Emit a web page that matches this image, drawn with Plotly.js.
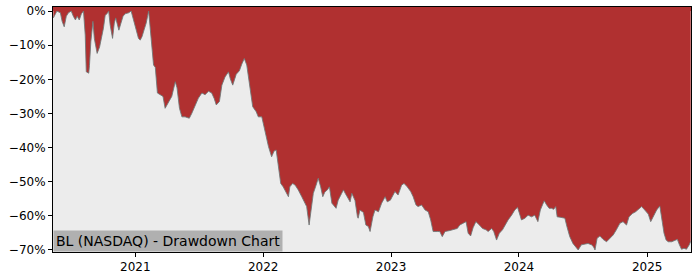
<!DOCTYPE html>
<html>
<head>
<meta charset="utf-8">
<script src="https://cdn.plot.ly/plotly-3.0.1.min.js"></script>
<style>html,body{margin:0;padding:0;background:#fff;}#chart{width:700px;height:280px;}</style>
</head>
<body>
<div id="chart"></div>
<script>
const dates = [
"2020-05-12","2020-05-22","2020-06-01","2020-06-06","2020-06-12","2020-06-18","2020-06-24","2020-07-02","2020-07-08","2020-07-14",
"2020-07-19","2020-07-25","2020-07-31","2020-08-06","2020-08-11","2020-08-14","2020-08-21","2020-08-23","2020-08-27","2020-09-02",
"2020-09-06","2020-09-14","2020-09-21","2020-09-28","2020-10-02","2020-10-07","2020-10-12","2020-10-17","2020-10-21","2020-10-28",
"2020-11-02","2020-11-06","2020-11-10","2020-11-15","2020-11-21","2020-11-27","2020-12-03","2020-12-13","2020-12-20","2020-12-27",
"2021-01-03","2021-01-10","2021-01-15","2021-01-20","2021-01-26","2021-02-01","2021-02-08","2021-02-12","2021-02-18","2021-02-22",
"2021-02-27","2021-03-05","2021-03-13","2021-03-21","2021-03-27","2021-04-06","2021-04-15","2021-04-25","2021-04-30","2021-05-07",
"2021-05-14","2021-05-23","2021-06-04","2021-06-11","2021-06-21","2021-06-30","2021-07-10","2021-07-19","2021-07-29","2021-08-07",
"2021-08-14","2021-08-20","2021-08-29","2021-09-05","2021-09-14","2021-09-24","2021-09-29","2021-10-06","2021-10-16","2021-10-25",
"2021-11-01","2021-11-08","2021-11-15","2021-11-25","2021-12-02","2021-12-12","2021-12-18","2021-12-28","2022-01-03","2022-01-11",
"2022-01-16","2022-01-25","2022-02-01","2022-02-07","2022-02-13","2022-02-20","2022-02-27","2022-03-07","2022-03-14","2022-03-18",
"2022-03-26","2022-04-02","2022-04-11","2022-04-21","2022-04-30","2022-05-05","2022-05-12","2022-05-17","2022-05-24","2022-06-01",
"2022-06-07","2022-06-14","2022-06-20","2022-06-26","2022-07-03","2022-07-09","2022-07-16","2022-07-28","2022-08-03","2022-08-13",
"2022-08-18","2022-08-23","2022-08-29","2022-09-06","2022-09-11","2022-09-20","2022-09-27","2022-09-29","2022-10-04","2022-10-14",
"2022-10-21","2022-10-28","2022-11-02","2022-11-10","2022-11-16","2022-11-26","2022-12-05","2022-12-15","2022-12-21","2022-12-30",
"2023-01-12","2023-01-21","2023-01-31","2023-02-07","2023-02-16","2023-02-26","2023-03-05","2023-03-13","2023-03-19","2023-03-29",
"2023-04-08","2023-04-17","2023-04-24","2023-05-01","2023-05-13","2023-05-20","2023-05-27","2023-06-04","2023-06-18","2023-06-29",
"2023-07-09","2023-07-16","2023-07-26","2023-08-03","2023-08-09","2023-08-16","2023-08-23","2023-08-31","2023-09-10","2023-09-19",
"2023-09-29","2023-10-05","2023-10-15","2023-10-21","2023-10-29","2023-11-06","2023-11-15","2023-11-22","2023-12-01","2023-12-11",
"2023-12-20","2023-12-28","2024-01-03","2024-01-08","2024-01-18","2024-01-27","2024-02-06","2024-02-15","2024-02-24","2024-03-02",
"2024-03-08","2024-03-13","2024-03-20","2024-03-27","2024-04-03","2024-04-09","2024-04-15","2024-04-19","2024-04-27","2024-05-11",
"2024-05-17","2024-05-25","2024-06-03","2024-06-13","2024-06-18","2024-06-27","2024-07-07","2024-07-16","2024-07-26","2024-08-01",
"2024-08-05","2024-08-11","2024-08-19","2024-08-28","2024-09-07","2024-09-16","2024-09-26","2024-10-05","2024-10-15","2024-10-24",
"2024-11-03","2024-11-10","2024-11-20","2024-11-29","2024-12-09","2024-12-16","2024-12-25","2025-01-04","2025-01-11","2025-01-18",
"2025-01-28","2025-02-06","2025-02-11","2025-02-18","2025-02-24","2025-03-02","2025-03-12","2025-03-21","2025-03-28","2025-04-03",
"2025-04-09","2025-04-16","2025-04-23","2025-05-01","2025-05-05"
];
const drawdownPct = [
-2.0,0,-0.5,-3,-4.6,-1.5,-0.5,0,-1.5,-2.6,
-1.5,-2.6,-0.8,0,-7,-17.8,-18.2,-16,-9,-3,
-8,-12.4,-10.5,-7.5,-5,-1.2,-0.8,0,-4,-8,
-3.5,-2,-4,-5.6,-3.5,-1.5,-0.8,-0.5,0,-2.5,
-5.5,-8,-8.5,-7.5,-5.5,-3.5,0,-4.6,-10,-15.8,
-16.5,-24,-24.5,-25,-28.5,-26.5,-25,-20.7,-22.5,-28.5,
-31,-31,-31.4,-30,-27.5,-25.5,-24,-24.5,-23.5,-24,
-25.6,-27.5,-26.5,-21.7,-19.3,-17.8,-19.8,-21.7,-18.5,-17.5,
-15.5,-13.9,-15.8,-22.6,-28,-29.5,-31,-31,-33.9,-37.5,
-39.7,-42.7,-41,-40.7,-46,-50.5,-51.5,-52.9,-54.4,-51.5,
-50.5,-51,-52.4,-54.4,-56,-57.3,-62.7,-58.3,-53.4,-51,
-49,-51.5,-54.4,-53,-52.4,-51.5,-56.3,-57.8,-55.4,-53.4,
-52.4,-53.4,-54.4,-55.9,-53.4,-55.5,-60.3,-60.7,-58.3,-59,
-62.7,-63.1,-64.6,-60.3,-58.3,-58.8,-56.3,-54.4,-55.9,-55.4,
-52.9,-53.9,-51,-50.5,-51.5,-52.9,-54.4,-56.8,-57.3,-56.8,
-58.3,-58.8,-61.2,-64.6,-64.6,-64.6,-66.1,-64.6,-64.3,-64.1,
-63.7,-62.7,-62.2,-61.7,-65.1,-65.9,-63.5,-61.7,-62.7,-63.7,
-64.1,-64.6,-63.7,-64.6,-67.1,-65.1,-64.1,-62.7,-61.2,-59.8,
-58.3,-57.5,-59.8,-61.2,-60.7,-59.8,-60.3,-59.8,-61.7,-58.3,
-56.8,-55.6,-56.8,-57.8,-57.8,-58.1,-57.3,-60.3,-60.4,-60.7,
-63.2,-66.1,-68.1,-69.5,-70,-68.5,-68.3,-68.1,-68.5,-69.1,
-70,-66.6,-65.9,-66.9,-67.6,-66.6,-65.6,-64.1,-62.2,-61.7,
-62.7,-60.3,-59.3,-58.8,-57.8,-57.3,-58.3,-59.5,-61.7,-60.3,
-58.3,-57.1,-60.8,-65.1,-67.1,-67.6,-67.6,-67.1,-66.9,-68.5,
-69.8,-69.5,-69.8,-68.5,-67.5
];
const yTickVals = [0,-10,-20,-30,-40,-50,-60,-70];
const yTickText = ["0%","\u221210%","\u221220%","\u221230%","\u221240%","\u221250%","\u221260%","\u221270%"];
const xTickVals = ["2021-01-01","2022-01-01","2023-01-01","2024-01-01","2025-01-01"];
const xTickText = ["2021","2022","2023","2024","2025"];
const chartLabel = "BL (NASDAQ) - Drawdown Chart";

const RED = "#b03030";
const trace = {
  x: dates, y: drawdownPct, type: "scatter", mode: "lines",
  fill: "tozeroy", fillcolor: RED,
  line: {color: "rgba(110,120,120,0.85)", width: 1},
  hoverinfo: "skip", showlegend: false
};
const layout = {
  width: 700, height: 280,
  margin: {l: 53, r: 9, t: 7, b: 28},
  paper_bgcolor: "#ffffff", plot_bgcolor: "#ececec",
  font: {family: "DejaVu Sans, sans-serif", size: 12, color: "#000"},
  xaxis: {
    type: "date", range: ["2020-05-11", "2025-05-06"],
    tickvals: xTickVals, ticktext: xTickText,
    ticks: "outside", ticklen: 4, tickwidth: 1, tickcolor: "#000",
    showgrid: false, zeroline: false,
    showline: true, mirror: true, linecolor: "#000", linewidth: 1,
    tickfont: {size: 12, color: "#000"}
  },
  yaxis: {
    range: [-70.6, 1.2],
    tickvals: yTickVals, ticktext: yTickText,
    ticks: "outside", ticklen: 4, tickwidth: 1, tickcolor: "#000",
    showgrid: false, zeroline: false,
    showline: true, mirror: true, linecolor: "#000", linewidth: 1,
    tickfont: {size: 12, color: "#000"}
  },
  shapes: [{
    type: "rect", layer: "below", xref: "paper", x0: 0, x1: 1,
    yref: "y", y0: 0, y1: 1.2, fillcolor: RED, line: {width: 0}
  }],
  annotations: [{
    text: chartLabel, xref: "paper", yref: "paper", x: 0, y: 0,
    xanchor: "left", yanchor: "bottom", showarrow: false,
    bgcolor: "#b0b0b0", borderpad: 2,
    font: {family: "DejaVu Sans, sans-serif", size: 14, color: "#000"}
  }]
};
Plotly.newPlot("chart", [trace], layout, {displayModeBar: false, staticPlot: true});
</script>
</body>
</html>
